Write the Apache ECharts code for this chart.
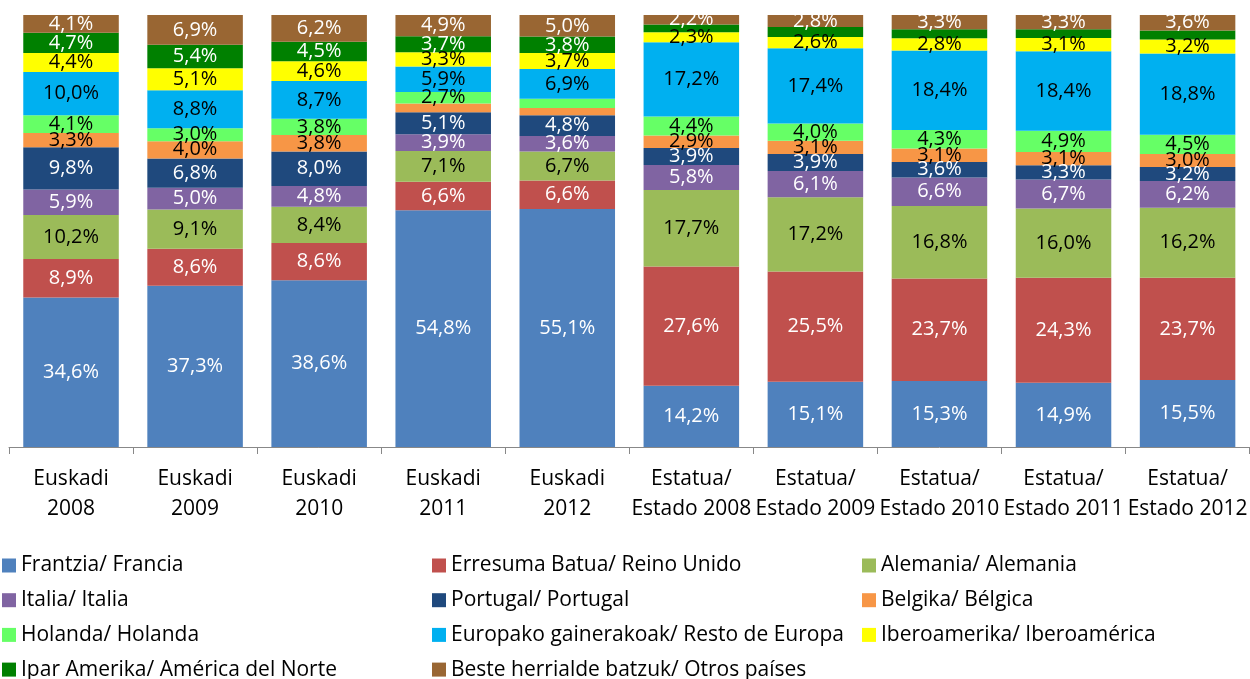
<!DOCTYPE html>
<html>
<head>
<meta charset="utf-8">
<script src="https://cdn.jsdelivr.net/npm/echarts@6/dist/echarts.min.js"></script>
<style>
  html, body { margin: 0; padding: 0; background: #fff; }
  #main { width: 1250px; height: 679px; }
</style>
</head>
<body>
<div id="main"></div>
<script>
// categorias del eje x
var categories = ['Euskadi\n2008', 'Euskadi\n2009', 'Euskadi\n2010', 'Euskadi\n2011', 'Euskadi\n2012',
  'Estatua/\nEstado 2008', 'Estatua/\nEstado 2009', 'Estatua/\nEstado 2010', 'Estatua/\nEstado 2011', 'Estatua/\nEstado 2012'];

// porcentajes por país (de abajo hacia arriba en la pila)
var frantzia     = [34.6, 37.3, 38.6, 54.8, 55.1, 14.2, 15.1, 15.3, 14.9, 15.5];
var erresuma     = [8.9, 8.6, 8.6, 6.6, 6.6, 27.6, 25.5, 23.7, 24.3, 23.7];
var alemania     = [10.2, 9.1, 8.4, 7.1, 6.7, 17.7, 17.2, 16.8, 16.0, 16.2];
var italia       = [5.9, 5.0, 4.8, 3.9, 3.6, 5.8, 6.1, 6.6, 6.7, 6.2];
var portugal     = [9.8, 6.8, 8.0, 5.1, 4.8, 3.9, 3.9, 3.6, 3.3, 3.2];
var belgika      = [3.3, 4.0, 3.8, 2.0, 1.7, 2.9, 3.1, 3.1, 3.1, 3.0];
var holanda      = [4.1, 3.0, 3.8, 2.7, 2.1, 4.4, 4.0, 4.3, 4.9, 4.5];
var europa       = [10.0, 8.8, 8.7, 5.9, 6.9, 17.2, 17.4, 18.4, 18.4, 18.8];
var iberoamerika = [4.4, 5.1, 4.6, 3.3, 3.7, 2.3, 2.6, 2.8, 3.1, 3.2];
var iparAmerika  = [4.7, 5.4, 4.5, 3.7, 3.8, 1.8, 2.3, 2.1, 2.0, 2.1];
var beste        = [4.1, 6.9, 6.2, 4.9, 5.0, 2.2, 2.8, 3.3, 3.3, 3.6];

// indices de categoria cuya etiqueta no se muestra
var hiddenBelgika = [3, 4];
var hiddenHolanda = [4];
var hiddenIpar = [5, 6, 7, 8, 9];

var seriesDefs = [
  { name: 'Frantzia/ Francia', data: frantzia, color: '#4F81BD', txt: '#fff', hide: [] },
  { name: 'Erresuma Batua/ Reino Unido', data: erresuma, color: '#C0504D', txt: '#fff', hide: [] },
  { name: 'Alemania/ Alemania', data: alemania, color: '#9BBB59', txt: '#000', hide: [] },
  { name: 'Italia/ Italia', data: italia, color: '#8064A2', txt: '#fff', hide: [] },
  { name: 'Portugal/ Portugal', data: portugal, color: '#1F497D', txt: '#fff', hide: [] },
  { name: 'Belgika/ Bélgica', data: belgika, color: '#F79646', txt: '#000', hide: hiddenBelgika },
  { name: 'Holanda/ Holanda', data: holanda, color: '#66FF66', txt: '#000', hide: hiddenHolanda },
  { name: 'Europako gainerakoak/ Resto de Europa', data: europa, color: '#00B0F0', txt: '#000', hide: [] },
  { name: 'Iberoamerika/ Iberoamérica', data: iberoamerika, color: '#FFFF00', txt: '#000', hide: [] },
  { name: 'Ipar Amerika/ América del Norte', data: iparAmerika, color: '#008000', txt: '#fff', hide: hiddenIpar },
  { name: 'Beste herrialde batzuk/ Otros países', data: beste, color: '#996633', txt: '#fff', hide: [] }
];

var FONT = '"Open Sans", sans-serif';

var series = seriesDefs.map(function (d) {
  return {
    name: d.name,
    type: 'bar',
    stack: 'total',
    barCategoryGap: '23%',
    itemStyle: { color: d.color },
    label: {
      show: true,
      position: 'inside',
      color: d.txt,
      fontFamily: FONT,
      fontSize: 20,
      formatter: function (p) { return p.value.toFixed(1).replace('.', ',') + '%'; }
    },
    data: d.data.map(function (v, i) {
      if (d.hide.indexOf(i) >= 0) return { value: v, label: { show: false } };
      return v;
    })
  };
});

function legendCol(names, left) {
  return {
    orient: 'vertical',
    left: left,
    top: 555,
    height: 130,
    padding: 0,
    itemWidth: 14,
    itemHeight: 14,
    itemGap: 13.7,
    icon: 'rect',
    selectedMode: false,
    textStyle: { fontFamily: FONT, fontSize: 21, color: '#000', lineHeight: 21 },
    data: names
  };
}

var myChart = echarts.init(document.getElementById('main'));
var option = {
  backgroundColor: '#fff',
  animation: false,
  grid: { left: 9, right: -9, top: 15, bottom: 232, containLabel: false },
  legend: [
    legendCol([seriesDefs[0].name, seriesDefs[3].name, seriesDefs[6].name, seriesDefs[9].name], 2),
    legendCol([seriesDefs[1].name, seriesDefs[4].name, seriesDefs[7].name, seriesDefs[10].name], 432),
    legendCol([seriesDefs[2].name, seriesDefs[5].name, seriesDefs[8].name], 862)
  ],
  xAxis: {
    type: 'category',
    data: categories,
    axisLine: { lineStyle: { color: '#888', width: 1 } },
    axisTick: { show: true, length: 7, lineStyle: { color: '#888' } },
    axisLabel: {
      interval: 0,
      margin: 17,
      color: '#000',
      fontFamily: FONT,
      fontSize: 21,
      lineHeight: 30
    }
  },
  yAxis: {
    type: 'value',
    min: 0,
    max: 100,
    show: false
  },
  series: series
};
myChart.setOption(option);
</script>
</body>
</html>
